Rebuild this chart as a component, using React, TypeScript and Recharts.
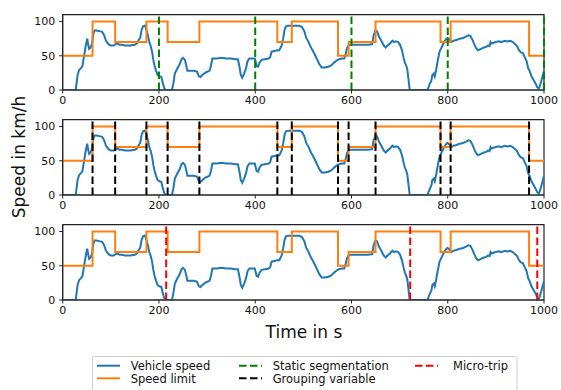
import React from 'react';
import { LineChart, Line, XAxis, YAxis, ReferenceLine, ReferenceArea } from 'recharts';

const speedTime = [0, 27, 31, 34, 38, 41, 44, 48, 51, 53, 55, 58, 61, 63, 66, 70, 76, 82, 86, 90, 95, 100, 106, 110, 114, 118, 123, 130, 140, 150, 154, 158, 161, 164, 167, 171, 174, 177, 180, 183, 186, 188, 191, 194, 197, 201, 205, 208, 211, 214, 227, 230, 233, 237, 242, 247, 250, 254, 257, 259, 265, 272, 279, 283, 286, 292, 298, 305, 308, 311, 320, 330, 340, 350, 358, 364, 367, 370, 373, 377, 381, 384, 388, 395, 399, 403, 406, 409, 413, 420, 428, 431, 434, 440, 446, 450, 455, 458, 461, 464, 468, 475, 485, 492, 497, 502, 506, 511, 515, 520, 525, 529, 533, 538, 545, 552, 558, 564, 569, 574, 580, 585, 588, 591, 595, 605, 620, 635, 643, 646, 650, 653, 657, 662, 667, 671, 675, 680, 685, 688, 692, 697, 701, 705, 708, 711, 714, 716, 718, 721, 758, 762, 766, 768, 771, 773, 776, 779, 783, 787, 791, 795, 799, 802, 805, 808, 812, 818, 825, 832, 838, 843, 847, 851, 855, 859, 863, 869, 875, 880, 884, 887, 889, 891, 895, 900, 906, 912, 918, 924, 930, 935, 940, 944, 948, 952, 956, 960, 964, 967, 970, 974, 978, 982, 986, 989, 991, 994, 997, 1000];
const speedValue = [0, 0, 22, 29, 32, 35, 48, 65, 75, 66, 60, 62, 68, 80, 87, 87, 86, 85, 80, 72, 67, 65, 65, 67, 68, 66, 66, 65, 65, 66, 68, 73, 76, 88, 93, 94, 88, 80, 70, 64, 55, 45, 35, 28, 22, 20, 19, 10, 3, 0, 0, 10, 24, 30, 36, 45, 47, 44, 35, 28, 28, 28, 27, 20, 19, 23, 26, 28, 35, 46, 46, 47, 46, 46, 45, 45, 35, 22, 18, 24, 32, 42, 46, 46, 46, 35, 34, 40, 44, 45, 46, 48, 56, 57, 58, 58, 65, 75, 88, 93, 94, 94, 94, 94, 92, 86, 76, 70, 63, 57, 50, 44, 38, 33, 33, 34, 36, 40, 43, 45, 46, 46, 53, 62, 66, 66, 66, 66, 67, 80, 87, 86, 78, 72, 65, 62, 65, 68, 72, 70, 71, 70, 66, 58, 48, 40, 35, 30, 18, 0, 0, 8, 14, 22, 24, 20, 30, 42, 56, 62, 68, 73, 76, 75, 72, 70, 72, 73, 75, 76, 78, 80, 79, 74, 67, 61, 58, 60, 62, 63, 65, 64, 70, 68, 69, 70, 71, 70, 72, 71, 72, 70, 67, 64, 58, 55, 54, 48, 42, 32, 28, 20, 15, 10, 4, 2, 5, 12, 20, 28];

const limitTime = [0, 62, 109, 174, 218, 284, 446, 476, 572, 594, 650, 785, 806, 969, 1000];
const limitValue = [50, 100, 70, 100, 70, 100, 70, 100, 50, 70, 100, 70, 100, 50, 50];

const staticSegmentation = [200, 400, 600, 800, 1000];
const groupingVariable = [62, 109, 174, 218, 284, 446, 476, 572, 594, 650, 785, 806, 969];
const microTrip = [215, 722, 986];

const xTicks = [0, 200, 400, 600, 800, 1000];
const yTicks = [0, 50, 100];

const speedData = speedTime.map((t, i) => ({ t, v: speedValue[i] }));
const limitData = limitTime.map((t, i) => ({ t, v: limitValue[i] }));

const FONT = '"DejaVu Sans", sans-serif';
const BLUE = '#1f77b4';
const ORANGE = '#ff7f0e';
const DASH = '7.5 3.5';

function Panel({ top, lines, color }: { top: number; lines: number[]; color: string }) {
  return (
    <div style={{ position: 'absolute', left: 0, top }}>
      <LineChart width={561} height={120} margin={{ top: 14.7, right: 17, bottom: 0, left: 0 }}>
        <XAxis
          dataKey="t"
          type="number"
          domain={[0, 1000]}
          ticks={xTicks}
          interval={0}
          allowDataOverflow
          height={30}
          tickSize={3.5}
          tickMargin={3}
          stroke="#222"
          tick={{ fill: '#111', fontSize: 11, fontFamily: FONT }}
        />
        <YAxis
          type="number"
          domain={[0, 110]}
          ticks={yTicks}
          interval={0}
          allowDataOverflow
          width={62.7}
          tickSize={3.5}
          tickMargin={4}
          stroke="#222"
          tick={{ fill: '#111', fontSize: 11, fontFamily: FONT }}
        />
        <Line data={speedData} dataKey="v" type="linear" stroke={BLUE} strokeWidth={2} dot={false} isAnimationActive={false} />
        <Line data={limitData} dataKey="v" type="stepAfter" stroke={ORANGE} strokeWidth={2} dot={false} isAnimationActive={false} />
        {lines.map((x) => (
          <ReferenceLine key={x} x={x} stroke={color} strokeWidth={2} strokeDasharray={DASH} />
        ))}
        <ReferenceArea x1={0} x2={1000} y1={0} y2={110} fill="none" stroke="#222" strokeWidth={1.2} />
      </LineChart>
    </div>
  );
}

export default function App() {
  return (
    <div style={{ position: 'absolute', left: 0, top: 0, width: 561, height: 390, background: '#fff', overflow: 'hidden', fontFamily: FONT }}>
      <Panel top={0} lines={staticSegmentation} color="#008000" />
      <Panel top={104.7} lines={groupingVariable} color="#000" />
      <Panel top={209.6} lines={microTrip} color="#ff0000" />
      <svg width={561} height={390} style={{ position: 'absolute', left: 0, top: 0, pointerEvents: 'none' }}>
        <text x={25} y={157} transform="rotate(-90, 25, 157)" textAnchor="middle" fontSize={17} fontFamily={FONT} fill="#111">
          Speed in km/h
        </text>
        <text x={304} y={337.5} textAnchor="middle" fontSize={17} fontFamily={FONT} fill="#111">
          Time in s
        </text>
        <rect x={92.5} y={356.5} width={424.5} height={45} rx={2} fill="#fff" fillOpacity={0.8} stroke="#ccc" />
        <line x1={97} x2={120} y1={365.7} y2={365.7} stroke={BLUE} strokeWidth={2} />
        <text x={130.7} y={370.3} fontSize={11.5} fontFamily={FONT} fill="#111">Vehicle speed</text>
        <line x1={97} x2={120} y1={378.3} y2={378.3} stroke={ORANGE} strokeWidth={2} />
        <text x={130.7} y={382.8} fontSize={11.5} fontFamily={FONT} fill="#111">Speed limit</text>
        <line x1={239} x2={262} y1={365.7} y2={365.7} stroke="#008000" strokeWidth={2} strokeDasharray={DASH} />
        <text x={272.7} y={370.3} fontSize={11.5} fontFamily={FONT} fill="#111">Static segmentation</text>
        <line x1={239} x2={262} y1={378.3} y2={378.3} stroke="#000" strokeWidth={2} strokeDasharray={DASH} />
        <text x={272.7} y={382.8} fontSize={11.5} fontFamily={FONT} fill="#111">Grouping variable</text>
        <line x1={415} x2={438} y1={365.7} y2={365.7} stroke="#ff0000" strokeWidth={2} strokeDasharray={DASH} />
        <text x={453} y={370.3} fontSize={11.5} fontFamily={FONT} fill="#111">Micro-trip</text>
      </svg>
    </div>
  );
}
